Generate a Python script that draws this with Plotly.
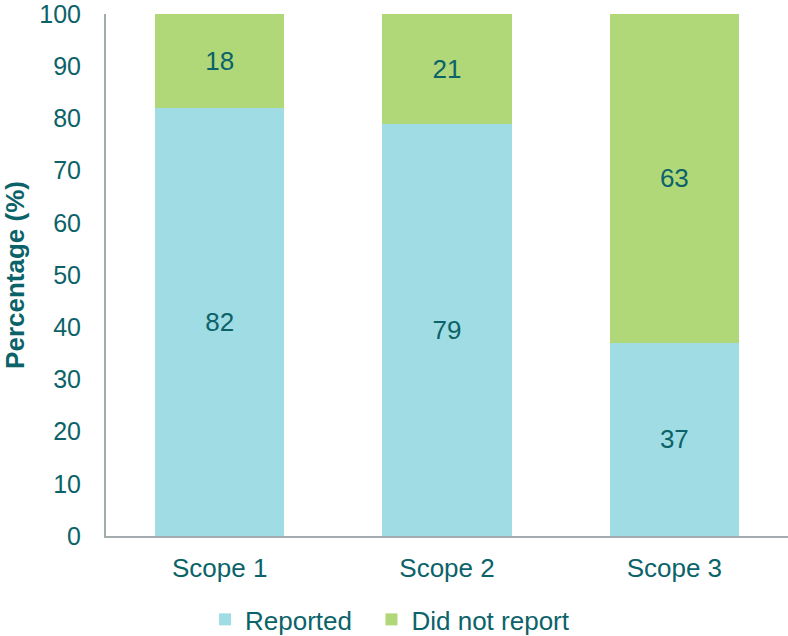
import plotly.graph_objects as go

categories = ["Scope 1", "Scope 2", "Scope 3"]
reported = [82, 79, 37]
did_not_report = [18, 21, 63]
y_ticks = [0, 10, 20, 30, 40, 50, 60, 70, 80, 90, 100]

TEXT = "#0B6369"
FONT = "Liberation Sans, Arial, sans-serif"

fig = go.Figure()
fig.add_trace(go.Bar(
    x=categories, y=reported, name="Reported\u00a0\u00a0",
    marker=dict(color="#A0DCE3", line=dict(width=0)),
    text=[str(v) for v in reported], textposition="inside",
    insidetextanchor="middle",
    textfont=dict(color=TEXT, size=26, family=FONT),
))
fig.add_trace(go.Bar(
    x=categories, y=did_not_report, name="Did not report",
    marker=dict(color="#B0D778", line=dict(width=0)),
    text=[str(v) for v in did_not_report], textposition="inside",
    insidetextanchor="middle",
    textfont=dict(color=TEXT, size=26, family=FONT),
))

fig.update_layout(
    barmode="stack",
    bargap=0.43,
    width=788, height=636,
    margin=dict(l=106, r=0, t=14, b=100, autoexpand=False),
    paper_bgcolor="white", plot_bgcolor="white",
    font=dict(family=FONT, color=TEXT, size=25),
    showlegend=True,
    legend=dict(orientation="h", xref="container", x=0.495, xanchor="center",
                yref="container", y=0.026, yanchor="middle",
                font=dict(size=26, color=TEXT), traceorder="normal"),
)
fig.update_xaxes(
    showline=True, linecolor="#A3ABAF", linewidth=2, automargin=False,
    showgrid=False, ticks="", tickfont=dict(size=26, color=TEXT),
    ticklabelstandoff=8,
)
fig.update_yaxes(
    range=[0, 100], tickvals=y_ticks, showline=True, linecolor="#A3ABAF", linewidth=2,
    automargin=False,
    showgrid=False, ticks="", zeroline=False, tickfont=dict(size=25, color=TEXT),
    ticklabelstandoff=18, ticklabeloverflow="allow",
    title=dict(text="<b>Percentage (%)</b>", font=dict(size=26, color=TEXT), standoff=29),
)

fig.write_html("out.html", config={"displayModeBar": False},
               post_script="document.body.style.margin='0';document.body.style.overflow='hidden';")
